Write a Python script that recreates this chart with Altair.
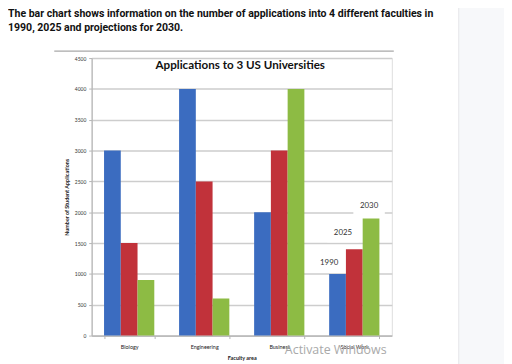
import altair as alt
import pandas as pd

faculties = ["Biology", "Engineering", "Business", "Social Work"]
years = ["1990", "2025", "2030"]
apps_1990 = [3000, 4000, 2000, 1000]
apps_2025 = [1500, 2500, 3000, 1400]
apps_2030 = [900, 600, 4000, 1900]
y_ticks = [0, 500, 1000, 1500, 2000, 2500, 3000, 3500, 4000, 4500]
colors = ["#3b6cc0", "#c1323a", "#8dbb44"]

header1 = "The bar chart shows information on the number of applications into 4 different faculties in"
header2 = "1990, 2025 and projections for 2030."
chart_title = "Applications to 3 US Universities"

rows = []
for f, a, b, c in zip(faculties, apps_1990, apps_2025, apps_2030):
    for yr, v in zip(years, [a, b, c]):
        rows.append({"faculty": f, "year": yr, "apps": v})
df = pd.DataFrame(rows)

W, H = 305, 282
FONT = "Lato"

x_scale = alt.Scale(paddingInner=0.33, paddingOuter=0.165)
y_scale = alt.Scale(domain=[0, 4500], nice=False)

x_axis = alt.Axis(title="Faculty area", labelAngle=0, labelFontSize=5.5,
                  labelFont=FONT, labelColor="#222", labelPadding=6,
                  labelOverlap=False,
                  titleFont=FONT, titleFontSize=5.5, titleFontWeight="bold",
                  titleColor="#222", titlePadding=6,
                  domainColor="#b5b5b5", domainWidth=1.2,
                  tickColor="#b5b5b5", tickSize=3, tickBand="extent")
y_axis = alt.Axis(values=y_ticks, format="d", labelOverlap=False,
                  title="Number of Student Applications",
                  labelFontSize=5, labelFont=FONT, labelColor="#333",
                  labelPadding=3, titleFont=FONT, titleFontSize=5.5,
                  titleFontWeight="bold", titleColor="#222", titlePadding=5,
                  grid=True, gridColor="#cdcdcd", gridWidth=1.5,
                  domainColor="#b5b5b5", domainWidth=1.2,
                  tickColor="#b5b5b5", tickSize=3)

x_enc = alt.X("faculty:N", sort=faculties, scale=x_scale, axis=x_axis)
xo_enc = alt.XOffset("year:N", sort=years, scale=alt.Scale(paddingInner=0, paddingOuter=0))
y_enc = alt.Y("apps:Q", scale=y_scale, axis=y_axis)

base = alt.Chart(df)

bars = base.mark_bar(size=17).encode(
    x=x_enc, xOffset=xo_enc, y=y_enc,
    color=alt.Color("year:N", sort=years, scale=alt.Scale(domain=years, range=colors), legend=None),
)

# year labels above the Social Work bars (with white boxes that break gridlines)
label_dx = {"1990": -8.5, "2025": -11.5, "2030": -2}
label_dy = {"1990": -11, "2025": -16, "2030": -13}
label_layers = []
for yr in years:
    sub = base.transform_filter((alt.datum.faculty == "Social Work") & (alt.datum.year == yr))
    dx, dy = label_dx[yr], label_dy[yr]
    u = 16.0
    x0, x1 = (dx - 16) / u, (dx + 16) / u
    y0, y1 = (dy - 9) / u, (dy + 9) / u
    path = f"M{x0},{y0}L{x1},{y0}L{x1},{y1}L{x0},{y1}Z"
    box = sub.mark_point(shape=path, size=1024, filled=True, color="white", opacity=1,
                         strokeWidth=0).encode(x=x_enc, xOffset=xo_enc, y=y_enc)
    txt = sub.mark_text(dx=dx, dy=dy, font=FONT, fontSize=8, color="#333",
                        baseline="middle").encode(x=x_enc, xOffset=xo_enc, y=y_enc, text="year:N")
    label_layers += [box, txt]

one = alt.Chart(pd.DataFrame({"k": [0]}))

panel = one.mark_rect(color="#f7f8fa").encode(
    x=alt.value(373), x2=alt.value(425), y=alt.value(-60), y2=alt.value(320))
panel_edge = one.mark_rule(color="#e4e6ea", strokeWidth=1).encode(
    x=alt.value(373), y=alt.value(-60), y2=alt.value(320))
frame_top = one.mark_rule(color="#a8a8a8", strokeWidth=1.3).encode(
    x=alt.value(-38), x2=alt.value(307), y=alt.value(-7))

h1 = one.mark_text(text=header1, align="left", baseline="middle", font="Roboto",
                   fontWeight="bold", fontSize=10.7, color="#111").encode(
    x=alt.value(-85), y=alt.value(-45))
h2 = one.mark_text(text=header2, align="left", baseline="middle", font="Roboto",
                   fontWeight="bold", fontSize=10.7, color="#111").encode(
    x=alt.value(-85), y=alt.value(-30))
ttl = one.mark_text(text=chart_title, align="center", baseline="middle", font=FONT,
                    fontWeight="bold", fontSize=11.8, color="#111").encode(
    x=alt.value(151), y=alt.value(7))
watermark = one.mark_text(text="Activate Windows", align="center", baseline="middle",
                          font="Open Sans", fontSize=12.6, color="#a9a9a9").encode(
    x=alt.value(248), y=alt.value(297))

chart = alt.layer(panel, panel_edge, frame_top, bars, *label_layers, h1, h2, ttl, watermark).properties(
    width=W, height=H,
    autosize=alt.AutoSizeParams(type="none"),
    padding={"left": 85, "top": 48, "right": 114, "bottom": 26},
).configure_view(stroke=None).configure(background="white")

chart.save("out.html", embed_options={"renderer": "svg", "actions": False})
